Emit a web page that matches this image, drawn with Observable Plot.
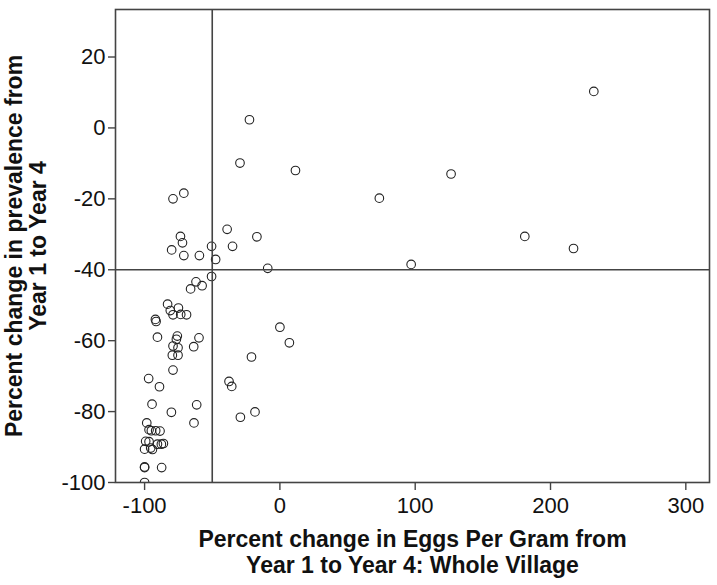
<!DOCTYPE html>
<html>
<head>
<meta charset="utf-8">
<script src="https://cdn.jsdelivr.net/npm/d3@7"></script>
<script src="https://cdn.jsdelivr.net/npm/@observablehq/plot@0.6"></script>
<style>
  html, body { margin: 0; padding: 0; background: #fff; }
  #chart { width: 717px; height: 585px; }
</style>
</head>
<body>
<div id="chart"></div>
<script>
const eggsChange = [
  232, -22.5, -29.5, 11.5, 126.5, -71, -79, 73.5, 181, 217, 97,
  -39, -17, -73.5, -72, -80, -50.5, -35, -71, -59.5, -47.5, -9, -50.5, -62, -57.5, -66,
  -83, -81, -75, -79, -73.3, -69, -92, -91.5, -90.5, -75.8, -76.5, -59.8, 0, 7,
  -79, -75.3, -63.7, -79.5, -75.3, -21, -79, -97, -89, -37.6, -35.6,
  -94.5, -61.5, -80.2, -18.4, -29.2, -63.5, -98.4, -96.7, -95, -91.8, -88.6,
  -99.2, -96.7, -90.5, -87.6, -86.1, -100, -95.5, -94.2, -100, -100, -87.4, -100
];
const prevalenceChange = [
  10.3, 2.3, -9.9, -12, -13, -18.4, -20, -19.8, -30.6, -34, -38.5,
  -28.6, -30.7, -30.6, -32.4, -34.4, -33.4, -33.4, -36, -36, -37.1, -39.6, -41.9, -43.4, -44.5, -45.4,
  -49.7, -51.5, -50.8, -52.7, -52.6, -52.7, -54, -54.6, -59, -58.7, -59.6, -59.2, -56.2, -60.6,
  -61.5, -62, -61.7, -64.1, -64.1, -64.6, -68.3, -70.7, -73, -71.5, -72.9,
  -77.9, -78.1, -80.2, -80.1, -81.6, -83.2, -83.2, -85.1, -85.4, -85.4, -85.5,
  -88.4, -88.5, -89.2, -89.2, -89, -90.6, -90.3, -90.7, -95.8, -95.6, -95.8, -100
];
const xTicks = [-100, 0, 100, 200, 300];
const yTicks = [-100, -80, -60, -40, -20, 0, 20];
const refX = [-50];
const refY = [-40];
const xTitle = "Percent change in Eggs Per Gram from\nYear 1 to Year 4: Whole Village";
const yTitle = "Percent change in prevalence from\nYear 1 to Year 4";

const data = eggsChange.map((x, i) => ({x, y: prevalenceChange[i]}));

const chart = Plot.plot({
  width: 717,
  height: 585,
  marginLeft: 115,
  marginRight: 8,
  marginTop: 9,
  marginBottom: 103,
  style: {fontFamily: "Liberation Sans, Arial, sans-serif", fontSize: "22px", color: "#111", background: "#fff"},
  x: {domain: [-121.5, 317.5], ticks: xTicks, label: null},
  y: {domain: [-100, 33.4], ticks: yTicks, label: null},
  marks: [
    Plot.dot(data, {x: "x", y: "y", r: 4.3, stroke: "#222", strokeWidth: 1.1, fill: "none", clip: true}),
    Plot.ruleX(refX, {stroke: "#444", strokeWidth: 1.6}),
    Plot.ruleY(refY, {stroke: "#444", strokeWidth: 1.6}),
    Plot.frame({stroke: "#444", strokeWidth: 1.6}),
    Plot.axisX({ticks: xTicks, tickSize: 8, tickPadding: 7, fontSize: 22, stroke: "#444", strokeWidth: 1.4, label: null, tickFormat: d => String(d)}),
    Plot.axisY({ticks: yTicks, tickSize: 7, tickPadding: 3, fontSize: 22, stroke: "#444", strokeWidth: 1.4, label: null, tickFormat: d => String(d)}),
    Plot.text([xTitle], {frameAnchor: "bottom", dy: 47, lineAnchor: "top", textAnchor: "middle", fontSize: 23, fontWeight: "bold", fill: "#111", lineHeight: 1.1}),
    Plot.text([yTitle], {frameAnchor: "left", dx: -89, rotate: -90, lineAnchor: "middle", textAnchor: "middle", fontSize: 23, fontWeight: "bold", fill: "#111", lineHeight: 1.05})
  ]
});
document.getElementById("chart").appendChild(chart);
</script>
</body>
</html>
